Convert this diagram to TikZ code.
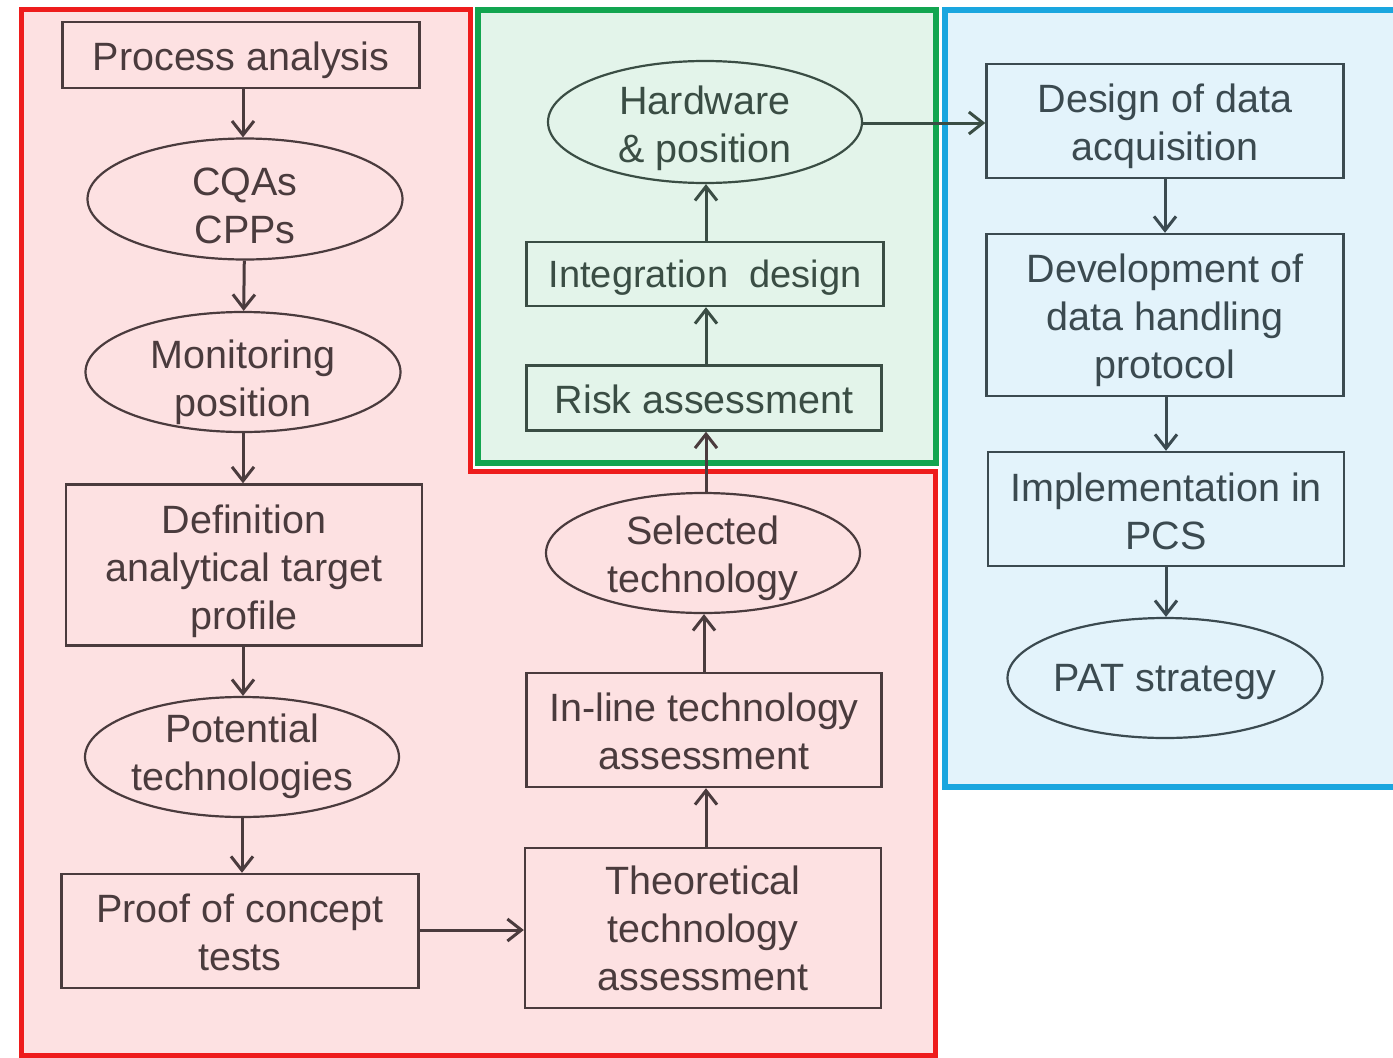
\documentclass[tikz,border=0pt]{standalone}
\usepackage{fontspec}
\setmainfont{Liberation Sans}
\usetikzlibrary{shapes.geometric,arrows.meta}
\definecolor{redline}{HTML}{EE1C1C}
\definecolor{redfill}{HTML}{FDE1E2}
\definecolor{greenline}{HTML}{12A550}
\definecolor{greenfill}{HTML}{E3F4EA}
\definecolor{blueline}{HTML}{1AA6DF}
\definecolor{bluefill}{HTML}{E3F3FB}
\definecolor{inkred}{HTML}{4A3B3D}
\definecolor{inkgreen}{HTML}{3A4D44}
\definecolor{inkblue}{HTML}{3B4A50}
\tikzset{
  x=1pt, y=-1pt,
  every node/.style={font=\fontsize{39.5}{48}\selectfont, align=center, inner sep=0pt},
  inred/.style={draw=inkred, text=inkred},
  ingreen/.style={draw=inkgreen, text=inkgreen},
  inblue/.style={draw=inkblue, text=inkblue},
  stepbox/.style={line width=2.4pt, rectangle},
  oval/.style={line width=2.2pt, ellipse},
  % text of a shape, lowered by #1
  says/.style 2 args={label={[yshift=-#1]center:{#2}}},
  flow/.style={line width=3pt, -{Straight Barb[length=14pt,width=22pt,line width=3pt]}},
}
\begin{document}
\begin{tikzpicture}
\useasboundingbox (0,0) rectangle (1393,1058);

% phase regions
\path[fill=redfill] (21,9) -- (470,9) -- (470,471) -- (935,471) -- (935,1055) -- (21,1055) -- cycle;
\path[fill=greenfill] (478,10) rectangle (936,463);
\path[fill=bluefill] (945,10) rectangle (1393,787);
\draw[redline, line width=5pt, line join=miter] (21,9) -- (470,9) -- (470,471) -- (935,471) -- (935,1055) -- (21,1055) -- cycle;
\draw[greenline, line width=6pt] (478,10) rectangle (936,463);
\draw[blueline, line width=6pt] (1393,10) -- (945,10) -- (945,787) -- (1393,787);

% left column
\begin{scope}[every label/.style={text=inkred}]
\node[stepbox, inred, minimum width=357pt, minimum height=66pt, says={5pt}{Process analysis}] (pa) at (241,55) {};
\node[oval, inred, minimum width=315pt, minimum height=121pt, says={7pt}{CQAs\\CPPs}] (cqa) at (245,199) {};
\node[oval, inred, minimum width=315pt, minimum height=120pt, says={10pt}{Monitoring\\position}] (mon) at (243,372) {};
\node[stepbox, inred, minimum width=356pt, minimum height=161pt, says={6pt}{Definition\\analytical target\\profile}] (atp) at (244,565) {};
\node[oval, inred, minimum width=314pt, minimum height=120pt, says={-1pt}{Potential\\technologies}] (pot) at (242,757) {};
\node[stepbox, inred, minimum width=357pt, minimum height=114pt, says={1pt}{Proof of concept\\tests}] (poc) at (240,931) {};

% middle column, lower part
\node[stepbox, inred, minimum width=356pt, minimum height=160pt, says={0pt}{Theoretical\\technology\\assessment}] (tta) at (703,928) {};
\node[stepbox, inred, minimum width=355pt, minimum height=114pt, says={1pt}{In-line technology\\assessment}] (ila) at (704,730) {};
\node[oval, inred, minimum width=314pt, minimum height=120pt, says={5pt}{Selected\\technology}] (sel) at (703,553) {};
\end{scope}

% middle column, upper part
\begin{scope}[every label/.style={text=inkgreen}]
\node[stepbox, ingreen, minimum width=355pt, minimum height=65pt, says={1pt}{Risk assessment}] (risk) at (704,398) {};
\node[stepbox, ingreen, minimum width=357pt, minimum height=64pt, says={4pt}{\fontsize{38}{48}\selectfont Integration\ \ design}] (integ) at (705,274) {};
\node[oval, ingreen, minimum width=314pt, minimum height=122pt, says={6pt}{Hardware\\\& position}] (hw) at (705,122) {};
\end{scope}

% right column
\begin{scope}[every label/.style={text=inkblue}]
\node[stepbox, inblue, minimum width=357pt, minimum height=114pt, says={5pt}{Design of data\\acquisition}] (dda) at (1165,121) {};
\node[stepbox, inblue, minimum width=357pt, minimum height=162pt, says={5pt}{Development of\\data handling\\protocol}] (dhp) at (1165,315) {};
\node[stepbox, inblue, minimum width=356pt, minimum height=114pt, says={2pt}{Implementation in\\PCS}] (pcs) at (1166,509) {};
\node[oval, inblue, minimum width=315pt, minimum height=120pt, says={4pt}{PAT strategy}] (pat) at (1165,678) {};
\end{scope}

% connectors
\begin{scope}[every path/.style={draw=inkred}]
\draw[flow] (pa.south -| 243,0) -- (cqa.north -| 243,0);
\draw[flow] (cqa) -- (mon);
\draw[flow] (mon.south) -- (atp.north -| mon.south);
\draw[flow] (atp.south -| 243,0) -- (pot.north -| 243,0);
\draw[flow] (pot.south) -- (poc.north -| pot.south);
\draw[flow] (poc.east |- 0,930) -- (tta.west |- 0,930);
\draw[flow] (tta.north -| 706,0) -- (ila.south -| 706,0);
\draw[flow] (ila.north -| 704,0) -- (sel.south -| 704,0);
\draw[flow] (sel.north -| 706,0) -- (risk.south -| 706,0);
\end{scope}
\begin{scope}[every path/.style={draw=inkgreen}]
\draw[flow] (risk.north -| 706,0) -- (integ.south -| 706,0);
\draw[flow] (integ.north -| 706,0) -- (hw.south -| 706,0);
\draw[flow] (hw.east |- 0,123) -- (dda.west |- 0,123);
\end{scope}
\begin{scope}[every path/.style={draw=inkblue}]
\draw[flow] (dda.south -| 1165,0) -- (dhp.north -| 1165,0);
\draw[flow] (dhp.south -| 1166,0) -- (pcs.north -| 1166,0);
\draw[flow] (pcs.south -| 1166,0) -- (pat.north -| 1166,0);
\end{scope}
\end{tikzpicture}
\end{document}
